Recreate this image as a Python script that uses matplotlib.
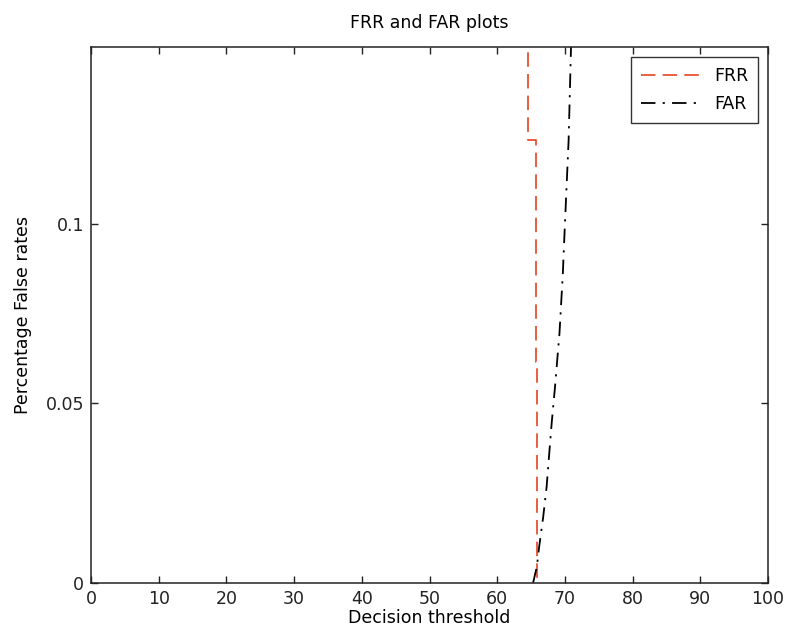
import numpy as np
import matplotlib
matplotlib.use('Agg')
import matplotlib.pyplot as plt

# False rejection / false acceptance rates against the decision threshold
frr_thr = [64.6, 64.6, 65.7, 65.7, 65.95, 65.95]
frr = [0.16, 0.1234, 0.1234, 0.0616, 0.0616, 0.0]

far_thr = [65.3, 65.85, 66.2, 66.8, 67.3, 67.65, 68.05, 68.5, 69.2, 69.7, 69.9, 70.55, 70.9, 71.1]
far = [0.0, 0.0045, 0.0101, 0.0185, 0.0268, 0.0352, 0.0446, 0.0538, 0.0696, 0.0864, 0.0955, 0.1234, 0.149, 0.16]

xticks = np.arange(0, 101, 10)
yticks = [0, 0.05, 0.1]
ytick_labels = ['0', '0.05', '0.1']

plt.rcParams['font.family'] = ['DejaVu Sans']
fs = 12.5

fig = plt.figure(figsize=(7.85, 6.36), dpi=100)
ax = fig.add_axes([91 / 785, 53 / 636, (768 - 91) / 785, (583 - 47) / 636])

ax.plot(frr_thr, frr, color='#e8502f', lw=1.3, linestyle=(0, (8, 4)), label='FRR')
ax.plot(far_thr, far, color='black', lw=1.3, linestyle=(0, (8, 4, 1.2, 4)), label='FAR')

ax.set_xlim(0, 100)
ax.set_ylim(0, 0.1493)
ax.set_xticks(xticks)
ax.set_yticks(yticks)
ax.set_yticklabels(ytick_labels)
ax.tick_params(direction='in', length=5, width=1, top=True, right=True,
               labelsize=fs, colors='#222222', pad=5)
for sp in ax.spines.values():
    sp.set_linewidth(1.1)
    sp.set_color('#222222')

ax.set_title('FRR and FAR plots', fontsize=fs, pad=14)
ax.set_xlabel('Decision threshold', fontsize=fs, labelpad=1)
ax.set_ylabel('Percentage False rates', fontsize=fs, labelpad=10)

leg = ax.legend(loc='upper right', fontsize=fs, frameon=True, fancybox=False,
                edgecolor='black', borderaxespad=0.6, handlelength=3.4,
                borderpad=0.55, labelspacing=0.6)
leg.get_frame().set_linewidth(1.0)

fig.savefig('out.png', dpi=100, facecolor='white')
